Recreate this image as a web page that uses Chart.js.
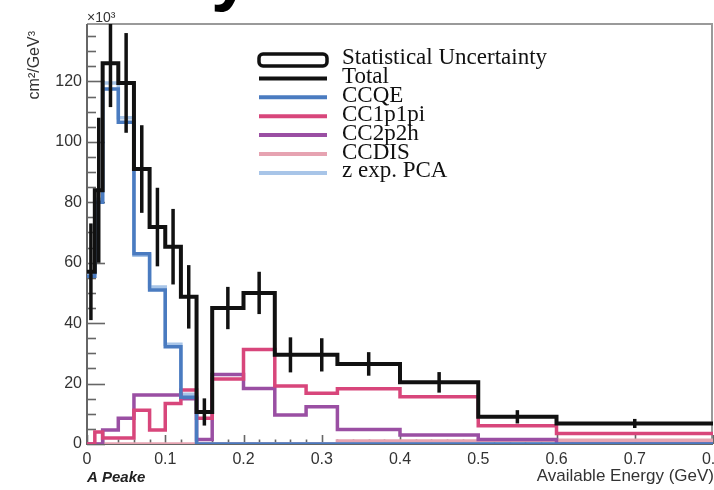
<!DOCTYPE html>
<html><head><meta charset="utf-8">
<script src="https://cdn.jsdelivr.net/npm/chart.js@4/dist/chart.umd.min.js"></script>
<style>
html,body{margin:0;padding:0;background:#fff;overflow:hidden;}
#wrap{width:714px;height:490px;overflow:hidden;position:relative;background:#fff;}
canvas{display:block;}
</style></head><body>
<div id="wrap"><canvas id="c" width="760" height="490"></canvas></div>
<script>
// ---- data ----
const binEdges = [0,0.01,0.02,0.04,0.06,0.08,0.10,0.12,0.14,0.16,0.20,0.24,0.28,0.32,0.40,0.50,0.60,0.80];
const total    = [57,84,126,119.5,91,71.8,65.3,48.7,10.6,45,50,29.5,29.5,26.5,20.4,9,6.8];
const totalErr = [16,24,14.5,16.5,14.5,13,12.5,10.5,4.5,7,7,5.8,5.5,3.9,3.4,2.2,1.5];
const ccqe     = [55.5,80,117.5,106.5,63,51,32.2,15.5,0,0,0,0,0,0,0,0,0];
const cc1p1pi  = [0,4,2,2,11.2,4.6,13.4,17.9,8.5,21.5,31.3,19.2,16.8,18.3,15.6,6,3.5];
const cc2p2h   = [0,0,4.6,8.5,16.2,16.2,16.2,15,1.5,23,18.4,9.6,12.3,4.8,3,1.5,0];
const ccdis    = [0,0,0,0,0,0,0,0,0,0,0,0,0,1,1,1.2,1.2];
const zexpPCA  = [56.5,81,119.5,108,62.5,52,33,16.5,0,0,0,0,0,0,0,0,0];
const xTicks = [0,0.1,0.2,0.3,0.4,0.5,0.6,0.7,0.8];
const yTicks = [0,20,40,60,80,100,120];
const legendLabels = ['Statistical Uncertainty','Total','CCQE','CC1p1pi','CC2p2h','CCDIS','z exp. PCA'];
const xTitle = 'Available Energy (GeV)';
const yTitle = 'cm\u00B2/GeV\u00B3';

const colors = {total:'#111111', ccqe:'#4a7bc0', cc1p1pi:'#d8467b', cc2p2h:'#9a4fa3', ccdis:'#e6a3b1', pca:'#a8c5e8'};

function hist(vals){
  const pts = vals.map((v,i)=>({x:binEdges[i], y:v}));
  pts.push({x:binEdges[binEdges.length-1], y:vals[vals.length-1]});
  return pts;
}
function ds(label, vals, color, w){
  return {label, data:hist(vals), borderColor:color, borderWidth:w, stepped:'before', pointRadius:0, fill:false, tension:0};
}

const decor = {
  id:'decor',
  beforeDatasetsDraw(chart){
    const {ctx, chartArea:a, scales:{x,y}} = chart;
    ctx.save();
    ctx.lineWidth = 2;
    ctx.strokeStyle = '#9a9a9a';
    ctx.beginPath(); ctx.moveTo(a.left, a.top); ctx.lineTo(a.right-1, a.top); ctx.lineTo(a.right-1, a.bottom); ctx.stroke();
    ctx.strokeStyle = '#666';
    ctx.beginPath(); ctx.moveTo(a.left, a.top); ctx.lineTo(a.left, a.bottom); ctx.lineTo(a.right, a.bottom); ctx.stroke();
    ctx.strokeStyle = '#666'; ctx.lineWidth = 1.6;
    const yStep = yTicks[1]-yTicks[0];
    for(let v=0; v<=y.max; v+=yStep/4){
      const major = Math.abs(v/yStep - Math.round(v/yStep))<1e-6;
      const py = Math.round(y.getPixelForValue(v))+0.5;
      ctx.beginPath(); ctx.moveTo(a.left, py); ctx.lineTo(a.left + (major?18:9), py); ctx.stroke();
    }
    const xStep = xTicks[1]-xTicks[0];
    for(let k=0; k<=Math.round(x.max/(xStep/5)); k++){
      const v = k*xStep/5;
      const major = k%5===0;
      const px = Math.round(x.getPixelForValue(v))+0.5;
      ctx.beginPath(); ctx.moveTo(px, a.bottom); ctx.lineTo(px, a.bottom - (major?9:4.5)); ctx.stroke();
    }
    ctx.restore();
  },
  afterDatasetsDraw(chart){
    const {ctx, chartArea:a, scales:{x,y}} = chart;
    ctx.save();
    ctx.beginPath(); ctx.rect(a.left, a.top, a.right-a.left, a.bottom-a.top+2); ctx.clip();
    ctx.strokeStyle = colors.total; ctx.lineWidth = 3.5;
    total.forEach((v,i)=>{
      const c = (binEdges[i]+binEdges[i+1])/2;
      const px = x.getPixelForValue(c);
      ctx.beginPath();
      ctx.moveTo(px, y.getPixelForValue(v-totalErr[i]));
      ctx.lineTo(px, y.getPixelForValue(v+totalErr[i]));
      ctx.stroke();
    });
    ctx.restore();
  },
  afterDraw(chart){
    const {ctx} = chart;
    ctx.save();
    const lx0 = 259, lx1 = 327, tx = 342, base0 = 64, step = 18.9;
    const lcols = [null, colors.total, colors.ccqe, colors.cc1p1pi, colors.cc2p2h, colors.ccdis, colors.pca];
    ctx.font = '23px "Liberation Serif", "Times New Roman", serif';
    ctx.fillStyle = '#111'; ctx.textAlign = 'left'; ctx.textBaseline = 'alphabetic';
    legendLabels.forEach((lab,i)=>{
      const b = base0 + i*step;
      if(i===0){
        ctx.strokeStyle = '#111'; ctx.lineWidth = 3.5;
        ctx.beginPath(); ctx.roundRect(lx0, b-10, lx1-lx0, 12, 4); ctx.stroke();
      } else {
        ctx.strokeStyle = lcols[i]; ctx.lineWidth = 4;
        ctx.beginPath(); ctx.moveTo(lx0, b-4.5); ctx.lineTo(lx1, b-4.5); ctx.stroke();
      }
      ctx.fillText(lab, tx, b);
    });
    ctx.fillStyle = '#333';
    ctx.font = '17px "Liberation Sans", Arial, sans-serif';
    ctx.textAlign = 'right'; ctx.textBaseline = 'middle';
    ctx.fillText(xTitle, 714, 476);
    ctx.save();
    ctx.translate(35, 31); ctx.rotate(-Math.PI/2);
    ctx.font = '16px "Liberation Sans", Arial, sans-serif';
    ctx.textAlign = 'right'; ctx.textBaseline = 'middle';
    ctx.fillText(yTitle, 0, 0);
    ctx.restore();
    ctx.font = '14px "Liberation Sans", Arial, sans-serif';
    ctx.textAlign = 'left'; ctx.textBaseline = 'middle';
    ctx.fillText('\u00D710\u00B3', 87, 18);
    ctx.fillStyle = '#222';
    ctx.font = 'italic bold 15px "Liberation Sans", Arial, sans-serif';
    ctx.fillText('A Peake', 87, 478);
    ctx.fillStyle = '#000';
    ctx.font = 'bold 72px "Liberation Sans", Arial, sans-serif';
    ctx.textBaseline = 'alphabetic';
    ctx.fillText('y', 211, -3);
    ctx.restore();
  }
};

new Chart(document.getElementById('c'), {
  type:'line',
  data:{datasets:[
    ds('Total', total, colors.total, 4),
    ds('CCQE', ccqe, colors.ccqe, 3.5),
    ds('CC1p1pi', cc1p1pi, colors.cc1p1pi, 3.5),
    ds('CC2p2h', cc2p2h, colors.cc2p2h, 3.5),
    ds('CCDIS', ccdis, colors.ccdis, 3.5),
    ds('z exp. PCA', zexpPCA, colors.pca, 3.5)
  ]},
  options:{
    responsive:false, animation:false, devicePixelRatio:1,
    layout:{padding:{top:24, left:0, right:47, bottom:0}},
    plugins:{legend:{display:false}, tooltip:{enabled:false}},
    scales:{
      x:{type:'linear', min:0, max:0.8,
         grid:{display:false, drawTicks:false}, border:{display:false},
         afterBuildTicks:s=>{s.ticks = xTicks.map(v=>({value:v}));},
         afterFit:s=>{s.height = 46;},
         ticks:{autoSkip:false, maxRotation:0, padding:6, color:'#333',
                font:{family:'"Liberation Sans", Arial, sans-serif', size:16},
                callback:v=>String(+Number(v).toFixed(1))}},
      y:{type:'linear', min:0, max:139,
         grid:{display:false, drawTicks:false}, border:{display:false},
         afterBuildTicks:s=>{s.ticks = yTicks.map(v=>({value:v}));},
         afterFit:s=>{s.width = 87;},
         ticks:{padding:5, color:'#333',
                font:{family:'"Liberation Sans", Arial, sans-serif', size:16}}}
    }
  },
  plugins:[decor]
});
</script>
</body></html>
